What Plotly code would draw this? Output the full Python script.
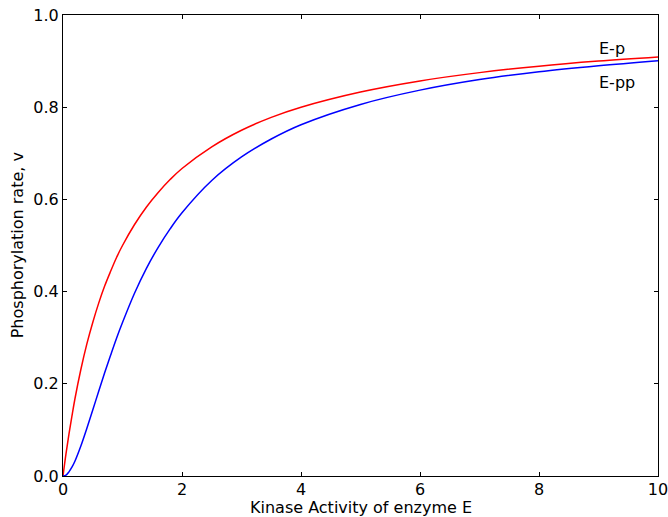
import plotly.graph_objects as go

# Kinase activity of enzyme E (x) and phosphorylation rates of both forms
kinase_activity = [0, 0.05, 0.1, 0.15, 0.2, 0.3, 0.4, 0.5, 0.6, 0.7, 0.8, 0.9, 1.0,
                   1.2, 1.4, 1.6, 1.8, 2.0, 2.5, 3.0, 3.5, 4.0, 5.0, 6.0, 7.0, 8.0, 9.0, 10.0]
rate_ep = [0.0, 0.048, 0.091, 0.130, 0.167, 0.231, 0.286, 0.333, 0.375, 0.412, 0.444, 0.474, 0.500,
           0.545, 0.583, 0.615, 0.643, 0.667, 0.714, 0.750, 0.778, 0.800, 0.833, 0.857, 0.875, 0.889, 0.900, 0.909]
rate_epp = [0.0, 0.002, 0.009, 0.019, 0.032, 0.065, 0.103, 0.143, 0.184, 0.224, 0.262, 0.299, 0.333,
            0.396, 0.450, 0.496, 0.536, 0.571, 0.641, 0.692, 0.731, 0.762, 0.806, 0.837, 0.860, 0.877, 0.890, 0.901]

x_ticks = [0, 2, 4, 6, 8, 10]
y_ticks = [0.0, 0.2, 0.4, 0.6, 0.8, 1.0]
y_tick_text = ["0.0", "0.2", "0.4", "0.6", "0.8", "1.0"]

fig = go.Figure()
fig.add_trace(go.Scatter(x=kinase_activity, y=rate_ep, mode="lines", name="E-p",
                         line=dict(color="#ff0000", width=1.5, shape="spline", smoothing=1.0)))
fig.add_trace(go.Scatter(x=kinase_activity, y=rate_epp, mode="lines", name="E-pp",
                         line=dict(color="#0000ff", width=1.5, shape="spline", smoothing=1.0)))

font_family = "DejaVu Sans"
fs = 16
txt_font = dict(family=font_family, size=fs, color="black")

# Curve labels
fig.add_annotation(x=8.97, y=0.927, text="E-p", showarrow=False, xanchor="left", yanchor="middle",
                   font=txt_font)
fig.add_annotation(x=8.97, y=0.853, text="E-pp", showarrow=False, xanchor="left", yanchor="middle",
                   font=txt_font)

# Axis titles
fig.add_annotation(x=0.5, y=-0.0889, xref="paper", yref="paper", text="Kinase Activity of enzyme E",
                   showarrow=False, xanchor="center", yanchor="bottom", yshift=-2, font=txt_font)
fig.add_annotation(x=-0.076, y=0.5, xref="paper", yref="paper", text="Phosphorylation rate, v",
                   showarrow=False, xanchor="center", yanchor="middle", textangle=-90, font=txt_font)

axis_common = dict(showgrid=False, zeroline=False, showline=True, linecolor="black", linewidth=1,
                   mirror="ticks", ticks="inside", ticklen=4, tickwidth=1, tickcolor="black",
                   automargin=False, ticklabeloverflow="allow",
                   tickfont=txt_font)

fig.update_xaxes(range=[0, 10], tickvals=x_ticks, ticktext=[str(t) for t in x_ticks],
                 ticklabelstandoff=-1, **axis_common)
fig.update_yaxes(range=[0, 1.0], tickvals=y_ticks, ticktext=y_tick_text, **axis_common)

fig.update_layout(width=668, height=517, showlegend=False,
                  margin=dict(l=63, r=10, t=15, b=41),
                  plot_bgcolor="white", paper_bgcolor="white",
                  font=txt_font)

fig.write_html("out.html")
